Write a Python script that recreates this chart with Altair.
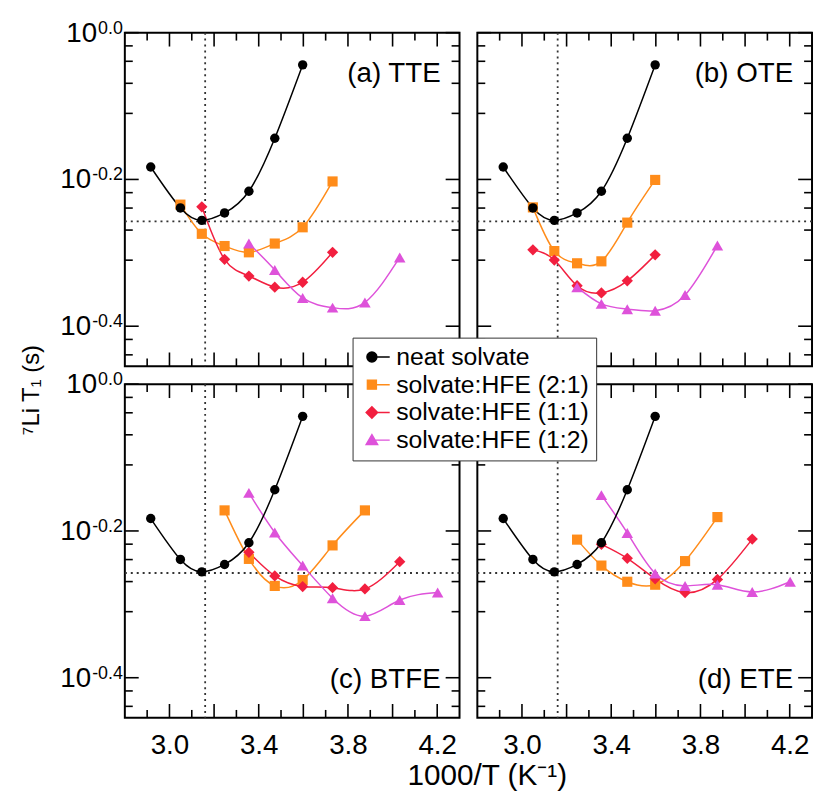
import altair as alt
import pandas as pd

FONT = "Liberation Sans"

# ---------------- data ----------------
SERIES = ["neat solvate", "solvate:HFE (2:1)", "solvate:HFE (1:1)", "solvate:HFE (1:2)"]
PANEL_LABELS = ["(a) TTE", "(b) OTE", "(c) BTFE", "(d) ETE"]

# neat solvate (identical in every panel)
neat_x = [2.916, 3.049, 3.145, 3.247, 3.356, 3.472, 3.597]
neat_t1 = [0.656, 0.577, 0.555, 0.568, 0.608, 0.718, 0.904]

# (a) TTE
a21_x = [3.049, 3.145, 3.247, 3.356, 3.472, 3.597, 3.731]
a21_t1 = [0.583, 0.532, 0.512, 0.502, 0.516, 0.543, 0.627]
a11_x = [3.145, 3.247, 3.356, 3.472, 3.597, 3.731]
a11_t1 = [0.579, 0.491, 0.466, 0.450, 0.457, 0.502]
a12_x = [3.356, 3.472, 3.597, 3.731, 3.876, 4.032]
a12_t1 = [0.516, 0.475, 0.435, 0.422, 0.429, 0.494]

# (b) OTE
b21_x = [3.049, 3.145, 3.247, 3.356, 3.472, 3.597]
b21_t1 = [0.578, 0.504, 0.485, 0.488, 0.551, 0.630]
b11_x = [3.049, 3.145, 3.247, 3.356, 3.472, 3.597]
b11_t1 = [0.506, 0.490, 0.452, 0.442, 0.459, 0.498]
b12_x = [3.247, 3.356, 3.472, 3.597, 3.731, 3.876]
b12_t1 = [0.450, 0.427, 0.420, 0.418, 0.439, 0.513]

# (c) BTFE
c21_x = [3.247, 3.356, 3.472, 3.597, 3.731, 3.876]
c21_t1 = [0.673, 0.578, 0.531, 0.541, 0.603, 0.673]
c11_x = [3.356, 3.472, 3.597, 3.731, 3.876, 4.032]
c11_t1 = [0.590, 0.548, 0.530, 0.528, 0.526, 0.573]
c12_x = [3.356, 3.472, 3.597, 3.731, 3.876, 4.032, 4.202]
c12_t1 = [0.711, 0.628, 0.566, 0.511, 0.483, 0.508, 0.520]

# (d) ETE
d21_x = [3.247, 3.356, 3.472, 3.597, 3.731, 3.876]
d21_t1 = [0.614, 0.566, 0.538, 0.533, 0.574, 0.659]
d11_x = [3.356, 3.472, 3.597, 3.731, 3.876, 4.032]
d11_t1 = [0.605, 0.579, 0.543, 0.520, 0.542, 0.615]
d12_x = [3.356, 3.472, 3.597, 3.731, 3.876, 4.032, 4.202]
d12_t1 = [0.706, 0.627, 0.552, 0.531, 0.533, 0.521, 0.538]

# reference (dotted) lines
X_REF = [3.16]
T1_REF = [0.553]

# axes
X_DOMAIN = [2.8, 4.3]
Y_DOMAIN = [0.351, 1.0]
X_LABEL_VALUES = [3.0, 3.4, 3.8, 4.2]
X_MAJOR_TICKS = [3.0, 3.2, 3.4, 3.6, 3.8, 4.0, 4.2]
X_MINOR_TICKS = [2.9, 3.1, 3.3, 3.5, 3.7, 3.9, 4.1]
Y_MAJOR_EXP = [0.0, -0.2, -0.4]
Y_MAJOR_TEXT = ["0.0", "-0.2", "-0.4"]
Y_MINOR_EXP = [-0.018, -0.039, -0.069, -0.110, -0.218, -0.239, -0.269, -0.310, -0.418, -0.439]

# ---------------- styles ----------------
COLORS = ["#000000", "#FF8C1A", "#F21F3F", "#DE52DA"]
SHAPES = ["circle", "square", "diamond", "triangle-up"]
SIZES = [90, 105, 130, 135]
LEGEND_PATHS = [
    "M-1,0A1,1,0,1,0,1,0A1,1,0,1,0,-1,0ZM1,0L3.6,0",
    "M-0.9,-0.9H0.9V0.9H-0.9ZM0.9,0L3.6,0",
    "M0,-1.15L1.15,0L0,1.15L-1.15,0ZM1.15,0L3.6,0",
    "M0,-1.1L1.15,0.9L-1.15,0.9ZM0.6,0L3.6,0",
]
W, H = 338, 337
LONG, SHORT = 14, 8
FS = 28
EXP_FS = 18
CHAR_W = {"0": 0.556, "2": 0.556, "4": 0.556, ".": 0.278, "-": 0.333}

rows = []


def add(panel, series, xs_, ts_):
    for xv, tv in zip(xs_, ts_):
        rows.append({"panel": panel, "series": series, "x": xv, "t1": tv})


for p in PANEL_LABELS:
    add(p, SERIES[0], neat_x, neat_t1)
add(PANEL_LABELS[0], SERIES[1], a21_x, a21_t1)
add(PANEL_LABELS[0], SERIES[2], a11_x, a11_t1)
add(PANEL_LABELS[0], SERIES[3], a12_x, a12_t1)
add(PANEL_LABELS[1], SERIES[1], b21_x, b21_t1)
add(PANEL_LABELS[1], SERIES[2], b11_x, b11_t1)
add(PANEL_LABELS[1], SERIES[3], b12_x, b12_t1)
add(PANEL_LABELS[2], SERIES[1], c21_x, c21_t1)
add(PANEL_LABELS[2], SERIES[2], c11_x, c11_t1)
add(PANEL_LABELS[2], SERIES[3], c12_x, c12_t1)
add(PANEL_LABELS[3], SERIES[1], d21_x, d21_t1)
add(PANEL_LABELS[3], SERIES[2], d11_x, d11_t1)
add(PANEL_LABELS[3], SERIES[3], d12_x, d12_t1)
df = pd.DataFrame(rows)

X_SCALE = alt.Scale(domain=X_DOMAIN, nice=False, zero=False)
Y_SCALE = alt.Scale(type="log", domain=Y_DOMAIN, nice=False)

LEG = alt.Legend(
    title=None, orient="none", legendX=230, legendY=308,
    fillColor="white", strokeColor="#333", padding=7,
    labelFontSize=25, labelFont=FONT, labelColor="black", labelLimit=500,
    symbolSize=100, symbolStrokeWidth=1.5, labelOffset=12, rowPadding=2,
    cornerRadius=0, symbolOpacity=1,
)


def panel(i):
    name = PANEL_LABELS[i]
    bottom = i >= 2
    left = i % 2 == 0
    if bottom:
        xaxis = alt.Axis(values=X_LABEL_VALUES, format=".1f", ticks=False, tickSize=0,
                         domain=False, grid=False, labelFontSize=FS, labelFont=FONT,
                         labelColor="black", labelPadding=14, labelFlush=False, title=None)
    else:
        xaxis = None
    X = alt.X("x:Q", scale=X_SCALE, axis=xaxis)
    Y = alt.Y("t1:Q", scale=Y_SCALE, axis=None)
    pdat = df[df.panel == name]
    layers = []

    dot = dict(strokeDash=[2, 4], strokeWidth=1.8, color="#333")
    layers.append(alt.Chart(pd.DataFrame({"x": X_REF})).mark_rule(**dot).encode(x=X))
    layers.append(alt.Chart(pd.DataFrame({"t1": T1_REF})).mark_rule(**dot).encode(y=Y))

    tk = dict(color="black", strokeWidth=1.6)
    xmaj = pd.DataFrame({"x": X_MAJOR_TICKS})
    xmin = pd.DataFrame({"x": X_MINOR_TICKS})
    ymaj = pd.DataFrame({"t1": [10 ** e for e in Y_MAJOR_EXP], "exp": Y_MAJOR_TEXT})
    ymin = pd.DataFrame({"t1": [10 ** e for e in Y_MINOR_EXP]})
    for d_, L in [(xmaj, LONG), (xmin, SHORT)]:
        layers.append(alt.Chart(d_).mark_rule(**tk).encode(x=X, y=alt.value(0), y2=alt.value(L)))
        layers.append(alt.Chart(d_).mark_rule(**tk).encode(x=X, y=alt.value(H), y2=alt.value(H - L)))
    for d_, L in [(ymaj, LONG), (ymin, SHORT)]:
        layers.append(alt.Chart(d_).mark_rule(**tk).encode(y=Y, x=alt.value(0), x2=alt.value(L)))
        layers.append(alt.Chart(d_).mark_rule(**tk).encode(y=Y, x=alt.value(W), x2=alt.value(W - L)))

    order = [1, 2, 3, 0]
    for k in order:
        layers.append(
            alt.Chart(pdat).transform_filter(alt.datum.series == SERIES[k]).mark_line(
                interpolate="natural", strokeWidth=1.5, color=COLORS[k]
            ).encode(x=X, y=Y)
        )
    for k in order:
        layers.append(
            alt.Chart(pdat).transform_filter(alt.datum.series == SERIES[k]).mark_point(
                shape=SHAPES[k], filled=True, size=SIZES[k], color=COLORS[k], opacity=1, strokeWidth=0
            ).encode(x=X, y=Y)
        )

    # panel label
    layers.append(
        alt.Chart(pd.DataFrame({"label": [name]})).mark_text(
            align="right", baseline="alphabetic", fontSize=FS, font=FONT, color="black"
        ).encode(x=alt.value(W - 19), y=alt.value(50 if i < 2 else 307), text="label:N")
    )

    if left:
        for e_txt in Y_MAJOR_TEXT:
            w = sum(CHAR_W[c] for c in e_txt) * EXP_FS
            sub = ymaj[ymaj.exp == e_txt]
            layers.append(
                alt.Chart(sub).mark_text(align="right", baseline="alphabetic", dx=-2, dy=1,
                                          fontSize=EXP_FS, font=FONT, color="black")
                .encode(y=Y, x=alt.value(0), text="exp:N")
            )
            layers.append(
                alt.Chart(sub).mark_text(align="right", baseline="middle", dx=-(3 + w), dy=1,
                                          fontSize=FS, font=FONT, color="black")
                .encode(y=Y, x=alt.value(0), text=alt.value("10"))
            )

    if i == 2:
        layers.append(
            alt.Chart(pd.DataFrame({"t": ["\u2077Li T\u2081 (s)"]})).mark_text(
                angle=270, align="center", baseline="middle", fontSize=24, font=FONT, color="black"
            ).encode(x=alt.value(-94), y=alt.value(6), text="t:N")
        )
        layers.append(
            alt.Chart(pd.DataFrame({"t": ["1000/T (K\u207b\u00b9)"]})).mark_text(
                align="center", baseline="alphabetic", fontSize=30, font=FONT, color="black"
            ).encode(x=alt.value(366), y=alt.value(405), text="t:N")
        )

    if i == 3:
        # invisible layer that only feeds the legend
        layers.append(
            alt.Chart(pdat).mark_point(filled=True, size=0).encode(
                x=X, y=Y,
                shape=alt.Shape("series:N", scale=alt.Scale(domain=SERIES, range=LEGEND_PATHS), legend=LEG),
                fill=alt.Fill("series:N", scale=alt.Scale(domain=SERIES, range=COLORS), legend=LEG),
                stroke=alt.Stroke("series:N", scale=alt.Scale(domain=SERIES, range=COLORS), legend=LEG),
            )
        )

    return alt.layer(*layers).properties(width=W, height=H)


chart = alt.concat(
    *[panel(i) for i in range(4)], columns=2, spacing=18, bounds="flush"
).properties(
    padding={"left": 11, "top": 7, "right": 0, "bottom": 0}
).configure_view(stroke="black", strokeWidth=2)

chart.save("out.html", embed_options={"renderer": "svg", "actions": False})
